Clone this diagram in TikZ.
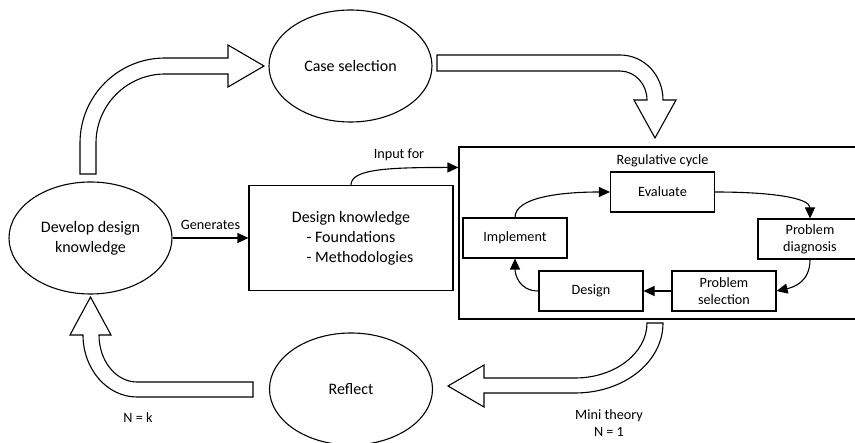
\documentclass[tikz,border=0pt]{standalone}
\usepackage{fontspec}
\setmainfont{Carlito}
\usetikzlibrary{arrows.meta,calc,shapes.geometric}
\begin{document}
\begin{tikzpicture}[x=1pt,y=-1pt,
  line width=1.1pt,
  bigtext/.style={font=\fontsize{16}{20}\selectfont},
  smalltext/.style={font=\fontsize{14.2}{17.3}\selectfont},
  oval/.style={draw, ellipse, inner sep=0pt, minimum width=163pt, minimum height=112pt, bigtext, align=center},
  stepbox/.style={draw, inner sep=0pt, minimum width=104pt, minimum height=40pt, smalltext, align=center},
  label/.style={inner sep=0pt, smalltext, align=center},
  flow/.style={-{Triangle[length=11pt,width=10pt]}},
  fatarrow/.style={draw, fill=white, line width=1.1pt, line join=miter}
]
\useasboundingbox (0,0) rectangle (855,443);
\clip (0,0) rectangle (855,443);

% main activities
\node[oval] (case) at (350.5,66) {Case selection};
\node[oval] (develop) at (90.5,238) {Develop design\\knowledge};
\node[oval] (reflect) at (351,389) {Reflect};

% design knowledge box
\node[draw, inner sep=0pt, minimum width=204pt, minimum height=105pt, bigtext, align=center]
  (dk) at (351,238) {Design knowledge\\- Foundations\\\hspace*{18pt}- Methodologies};

% regulative cycle frame
\node[draw, inner sep=0pt, minimum width=441pt, minimum height=172pt] (frame) at (679.5,233) {};
\node[label] (rc) at (662.5,161) {Regulative cycle};

% cycle steps
\node[stepbox] (evaluate) at (662.5,192) {Evaluate};
\node[stepbox] (implement) at (515,238) {Implement};
\node[stepbox] (diag) at (810,239) {Problem\\diagnosis};
\node[stepbox] (design) at (591,291) {Design};
\node[stepbox] (select) at (724,291) {Problem\\selection};

% cycle connectors
\draw[flow] (implement.north) .. controls +(0,-20) and +(-50,0) .. (evaluate.west);
\draw[flow] (evaluate.east) .. controls +(60,0) and +(0,-20) .. (diag.north);
\draw[flow] (diag.south) .. controls +(0,22) and +(18,-4) .. (select.east);
\draw[flow] (select.west) -- (design.east);
\draw[flow] (design.west) .. controls +(-20,0) and +(0,15) .. (implement.south);

% knowledge connectors
\draw[flow] (develop.east) -- node[label, above=8pt] (gen) {Generates} (dk.west);
\draw[flow] (dk.north) .. controls +(0,-16) and +(-70,0) .. ($(frame.north west)+(0,21)$);
\node[label] (inputfor) at (399,155) {Input for};

% block arrows between the main activities
\draw[fatarrow] (80,174) -- (80,143) .. controls (80,96) and (118,58) .. (165,58)
  -- (228,58) -- (228,45) -- (264,66) -- (228,87) -- (228,74) -- (165,74)
  .. controls (127,74) and (96,105) .. (96,143) -- (96,174) -- cycle;
\draw[fatarrow] (437,55) -- (620,55) .. controls (644,55) and (663,75) .. (663,100)
  -- (676,100) -- (655,138) -- (634,100) -- (647,100)
  .. controls (647,84) and (635,71) .. (620,71) -- (437,71) -- cycle;
\draw[fatarrow] (647,323) -- (663,323) .. controls (663,362) and (624,393) .. (575,393)
  -- (484,393) -- (484,407) -- (448,386) -- (484,365) -- (484,378) -- (575,378)
  .. controls (615,378) and (647,353) .. (647,323) -- cycle;
\draw[fatarrow] (253,397) -- (137,397) .. controls (107,397) and (83,369) .. (83,335)
  -- (70,335) -- (90.5,297) -- (111,335) -- (99,335)
  .. controls (99,361) and (116,382) .. (137,382) -- (253,382) -- cycle;

% iteration labels
\node[label] (nk) at (138,418) {N = k};
\node[label] (mini) at (609,423) {Mini theory\\N = 1};
\end{tikzpicture}
\end{document}
